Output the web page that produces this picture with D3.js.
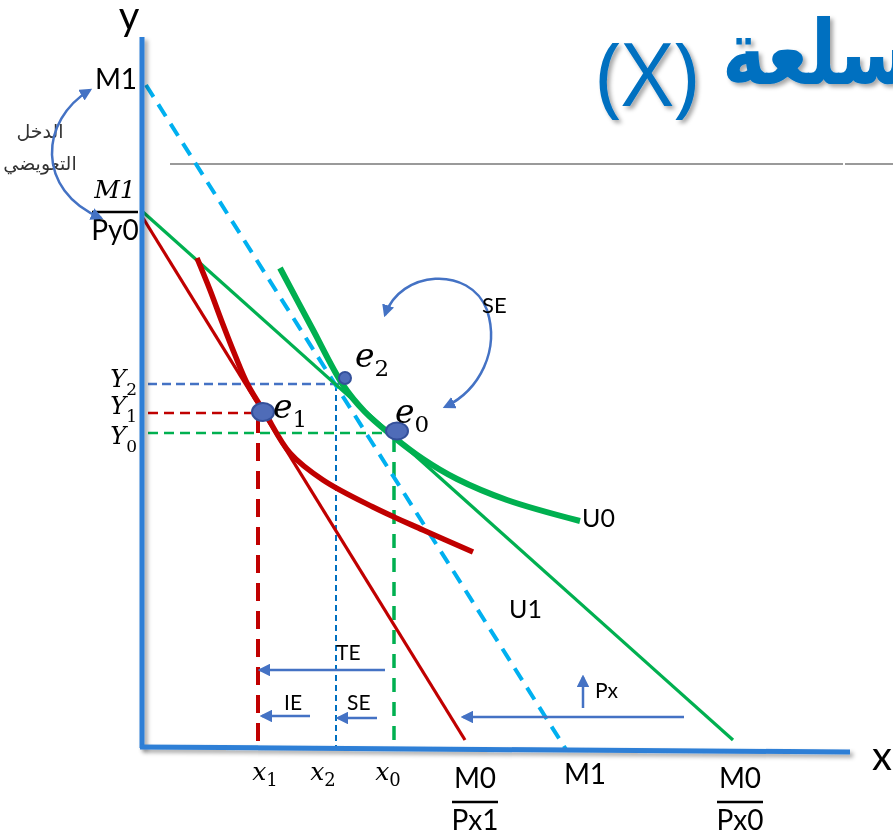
<!DOCTYPE html>
<html>
<head>
<meta charset="utf-8">
<script src="https://cdn.jsdelivr.net/npm/d3@7"></script>
<style>
  body { margin: 0; background: #fff; }
  svg { display: block; }
</style>
</head>
<body>
<div id="plot_area"></div>
<script>
// Set SVG width and height
const w = 893;
const h = 838;

// Budget lines, [x, y] in quantity units
const budgetOld = [[0, 535], [590, 7]];      // M1/Py0 -> M0/Px0
const budgetNew = [[0, 529], [322, 7]];      // -> M0/Px1
const budgetComp = [[3, 662], [424, -4]];    // M1 -> M1 (compensated)

// Indifference curves
const curveU0 = [[137, 479], [169, 419], [200, 362], [222, 335], [247, 313], [280, 288], [314, 268], [364, 247], [437, 226]];
const curveU1 = [[54, 489], [67, 457], [79, 425], [92, 392], [105, 362], [122, 334], [147, 294], [180, 267], [230, 240], [280, 217], [330, 195]];

// Equilibrium points
const eqNames = ['0', '1', '2'];
const eqX = [254, 120, 202];
const eqY = [316, 335, 369];

// Guide (projection) lines
const guideY = [363, 334, 314];        // Y2, Y1, Y0
const guideYEnd = [197, 112, 252];
const guideX = [193, 115, 251];        // x2, x1, x0
const guideXTop = [362, 332, 309];

// Tick labels
const xTickSubs = ['1', '2', '0'];
const xTickVals = [122, 180, 245];
const yTickSubs = ['2', '1', '0'];
const yTickVals = [364, 337, 307];

const xScale = d3.scaleLinear().domain([0, 707]).range([143, 850]);
const yScale = d3.scaleLinear().domain([0, 710]).range([747, 37]);

const svg = d3.select('#plot_area')
  .append('svg')
  .attr('width', w)
  .attr('height', h);

const defs = svg.append('defs');
const shadow = defs.append('filter').attr('id', 'shadow')
  .attr('filterUnits', 'userSpaceOnUse')
  .attr('x', 0).attr('y', 0).attr('width', w).attr('height', h);
shadow.append('feDropShadow')
  .attr('dx', 3).attr('dy', 3).attr('stdDeviation', 2)
  .attr('flood-color', '#000').attr('flood-opacity', 0.35);

defs.append('marker')
  .attr('id', 'arrow')
  .attr('viewBox', '0 0 10 10')
  .attr('refX', 8).attr('refY', 5)
  .attr('markerWidth', 5).attr('markerHeight', 5)
  .attr('markerUnits', 'strokeWidth')
  .attr('orient', 'auto-start-reverse')
  .append('path')
  .attr('d', 'M0,0 L10,5 L0,10 Z')
  .attr('fill', '#4472c4');

const line = d3.line().x((d) => xScale(d[0])).y((d) => yScale(d[1]));
const curve = d3.line().x((d) => xScale(d[0])).y((d) => yScale(d[1])).curve(d3.curveCatmullRom);

// Title (cut off by the page edge)
const title = svg.append('g').attr('filter', 'url(#shadow)');
title.append('text')
  .attr('x', 596).attr('y', 106)
  .style('font-family', 'Open Sans')
  .style('font-size', '88px')
  .attr('fill', '#0070c0')
  .text('(X)');
title.append('text')
  .attr('transform', 'translate(722,84) scale(0.82,1)')
  .style('font-family', 'DejaVu Sans')
  .style('font-weight', 'bold')
  .style('font-size', '90px')
  .attr('fill', '#0070c0')
  .text('السلعة');

// Thin gray rule
svg.append('line')
  .attr('x1', 170).attr('x2', 843).attr('y1', 164).attr('y2', 164)
  .attr('stroke', '#9a9a9a').attr('stroke-width', 2);
svg.append('line')
  .attr('x1', 845).attr('x2', 893).attr('y1', 164).attr('y2', 164)
  .attr('stroke', '#9a9a9a').attr('stroke-width', 2);

// Guide lines
const hStyles = [
  { c: '#4472c4', wd: 2.5, dash: '9 5' },
  { c: '#c00000', wd: 2.5, dash: '10 6' },
  { c: '#00b050', wd: 2.5, dash: '10 6' }
];
const vStyles = [
  { c: '#0070c0', wd: 2, dash: '6 4' },
  { c: '#c00000', wd: 4, dash: '18 10' },
  { c: '#00b050', wd: 3.5, dash: '14 10' }
];
guideY.forEach(function (v, i) {
  svg.append('path')
    .attr('d', line([[5, v], [guideYEnd[i], v]]))
    .attr('stroke', hStyles[i].c).attr('stroke-width', hStyles[i].wd)
    .attr('stroke-dasharray', hStyles[i].dash).attr('fill', 'none');
});
guideX.forEach(function (v, i) {
  svg.append('path')
    .attr('d', line([[v, guideXTop[i]], [v, 0]]))
    .attr('stroke', vStyles[i].c).attr('stroke-width', vStyles[i].wd)
    .attr('stroke-dasharray', vStyles[i].dash).attr('fill', 'none');
});

// Budget lines
svg.append('path').datum(budgetComp)
  .attr('d', line).attr('stroke', '#00b0f0').attr('stroke-width', 4)
  .attr('stroke-dasharray', '14 9').attr('fill', 'none');
svg.append('path').datum(budgetOld)
  .attr('d', line).attr('stroke', '#00b050').attr('stroke-width', 3.2).attr('fill', 'none');
svg.append('path').datum(budgetNew)
  .attr('d', line).attr('stroke', '#c00000').attr('stroke-width', 3.2).attr('fill', 'none');

// Indifference curves
svg.append('path').datum(curveU0)
  .attr('d', curve).attr('stroke', '#00b050').attr('stroke-width', 6).attr('fill', 'none');
svg.append('path').datum(curveU1)
  .attr('d', curve).attr('stroke', '#c00000').attr('stroke-width', 5.5).attr('fill', 'none');

// Axes
svg.append('path')
  .attr('d', line([[-1, -1], [-1, 710]]))
  .attr('stroke', '#2e7fd6').attr('stroke-width', 5).attr('fill', 'none')
  .attr('filter', 'url(#shadow)');
svg.append('path')
  .attr('d', line([[-3, 0], [707, -5]]))
  .attr('stroke', '#2e7fd6').attr('stroke-width', 5).attr('fill', 'none')
  .attr('filter', 'url(#shadow)');

svg.append('text').attr('x', 129).attr('y', 30).attr('text-anchor', 'middle')
  .style('font-family', 'Lato').style('font-size', '40px').text('y');
svg.append('text').attr('x', 872).attr('y', 770)
  .style('font-family', 'Lato').style('font-size', '40px').text('x');

// Equilibrium points
const eqSize = [[11, 8.5], [11, 9], [6, 6]];
const eqLabelDx = [-2, 10, 10];
const eqLabelDy = [-8, 6, -11];
eqNames.forEach(function (n, i) {
  svg.append('ellipse')
    .attr('cx', xScale(eqX[i])).attr('cy', yScale(eqY[i]))
    .attr('rx', eqSize[i][0]).attr('ry', eqSize[i][1])
    .attr('fill', '#4f6cb8').attr('stroke', '#34509a').attr('stroke-width', 2);
  const t = svg.append('text')
    .attr('x', xScale(eqX[i]) + eqLabelDx[i])
    .attr('y', yScale(eqY[i]) + eqLabelDy[i])
    .style('font-family', 'DejaVu Serif').style('font-style', 'italic')
    .style('font-size', '33px');
  t.append('tspan').text('e');
  t.append('tspan').attr('dy', 9).style('font-style', 'normal').style('font-size', '23px').text(n);
});

// Y tick labels
yTickVals.forEach(function (v, i) {
  const t = svg.append('text')
    .attr('x', 137).attr('y', yScale(v) + 4)
    .attr('text-anchor', 'end')
    .style('font-family', 'DejaVu Serif').style('font-style', 'italic')
    .style('font-size', '24px');
  t.append('tspan').text('Y');
  t.append('tspan').attr('dy', 8).style('font-style', 'normal').style('font-size', '17px').text(yTickSubs[i]);
});

// X tick labels
xTickVals.forEach(function (v, i) {
  const t = svg.append('text')
    .attr('x', xScale(v)).attr('y', 780)
    .attr('text-anchor', 'middle')
    .style('font-family', 'DejaVu Serif').style('font-style', 'italic')
    .style('font-size', '25px');
  t.append('tspan').text('x');
  t.append('tspan').attr('dy', 6).style('font-style', 'normal').style('font-size', '18px').text(xTickSubs[i]);
});

// Fraction labels
function fraction(cx, top, num, den, italicNum) {
  svg.append('text').attr('x', cx).attr('y', top)
    .attr('text-anchor', 'middle')
    .style('font-family', italicNum ? 'DejaVu Serif' : 'Lato')
    .style('font-style', italicNum ? 'italic' : 'normal')
    .style('font-size', italicNum ? '25px' : '28px').text(num);
  svg.append('line')
    .attr('x1', cx - 23).attr('x2', cx + 23)
    .attr('y1', top + 14).attr('y2', top + 14)
    .attr('stroke', '#000').attr('stroke-width', 2.5);
  svg.append('text').attr('x', cx).attr('y', top + 42)
    .attr('text-anchor', 'middle')
    .style('font-family', 'Lato').style('font-size', '28px').text(den);
}
fraction(xScale(332), 788, 'M0', 'Px1', false);
fraction(xScale(597), 788, 'M0', 'Px0', false);
fraction(115, 198, 'M1', 'Py0', true);

svg.append('text').attr('x', xScale(442)).attr('y', 784).attr('text-anchor', 'middle')
  .style('font-family', 'Lato').style('font-size', '28px').text('M1');
svg.append('text').attr('x', 116).attr('y', 89).attr('text-anchor', 'middle')
  .style('font-family', 'Lato').style('font-size', '28px').text('M1');

// Arabic note on the left
svg.append('text').attr('x', 40).attr('y', 138).attr('text-anchor', 'middle')
  .style('font-family', 'DejaVu Sans').style('font-size', '19px').attr('fill', '#333')
  .text('الدخل');
svg.append('text').attr('x', 40).attr('y', 170).attr('text-anchor', 'middle')
  .style('font-family', 'DejaVu Sans').style('font-size', '19px').attr('fill', '#333')
  .text('التعويضي');

// Curved arrows
const arcIncome = [[-53, 657], [-103, 627], [-108, 557], [-42, 529]];
const arcSE = [[242, 432], [257, 477], [327, 482], [344, 437], [357, 397], [337, 357], [302, 340]];
function cubicPath(p) {
  const pp = p.map((d) => [xScale(d[0]), yScale(d[1])]);
  let s = 'M' + pp[0];
  for (let i = 1; i < pp.length; i += 3) {
    s += 'C' + pp[i] + ' ' + pp[i + 1] + ' ' + pp[i + 2];
  }
  return s;
}
[arcIncome, arcSE].forEach(function (p) {
  svg.append('path').attr('d', cubicPath(p))
    .attr('stroke', '#4472c4').attr('stroke-width', 2.5).attr('fill', 'none')
    .attr('marker-start', 'url(#arrow)').attr('marker-end', 'url(#arrow)');
});

// Straight arrows
const arrows = [
  [[242, 77], [117, 77]],    // TE
  [[167, 31], [119, 31]],    // IE
  [[234, 29], [195, 29]],    // SE
  [[541, 30], [320, 30]],    // budget shift
  [[440, 39], [440, 70]]     // Px up
];
arrows.forEach(function (a) {
  svg.append('path').attr('d', line(a))
    .attr('stroke', '#4472c4').attr('stroke-width', 2.5).attr('fill', 'none')
    .attr('marker-end', 'url(#arrow)');
});

// Annotation labels
const notes = [
  ['SE', 482, 313, 22], ['U0', 582, 527, 25], ['U1', 509, 618, 25],
  ['TE', 336, 660, 21], ['IE', 284, 710, 21], ['SE', 347, 710, 21], ['Px', 595, 698, 21]
];
notes.forEach(function (n) {
  svg.append('text').attr('x', n[1]).attr('y', n[2])
    .style('font-family', 'Lato').style('font-size', n[3] + 'px').text(n[0]);
});
</script>
</body>
</html>
